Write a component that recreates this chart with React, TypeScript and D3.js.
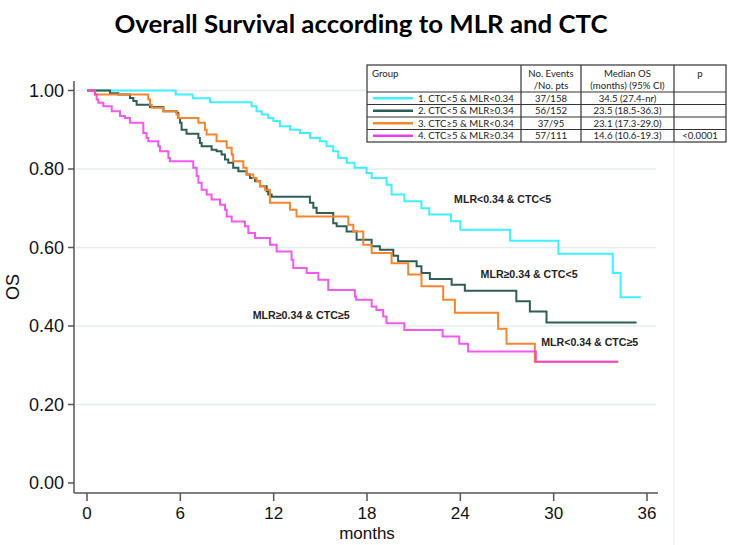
import React from 'react'
import * as d3 from 'd3'

// Kaplan-Meier steps: drop times (months) and survival after each drop
const g1Times = [0, 5.7, 6.8, 7.9, 10.58, 10.9, 11.23, 11.65, 11.98, 12.4, 13.05, 13.69, 14.33, 14.97, 15.4, 15.83, 16.15, 16.7, 17.2, 17.97, 18.3, 19.26, 19.58, 20.4, 21.5, 22.0, 23.4, 24.0, 27.2, 30.3, 33.8, 34.3]
const g1Surv = [1, 0.99, 0.98, 0.97, 0.96, 0.947, 0.939, 0.93, 0.922, 0.909, 0.9, 0.892, 0.879, 0.871, 0.858, 0.845, 0.828, 0.816, 0.803, 0.79, 0.777, 0.76, 0.735, 0.718, 0.7, 0.684, 0.667, 0.645, 0.617, 0.584, 0.535, 0.473]

const g2Times = [0, 1.48, 2.01, 2.76, 2.98, 3.19, 4.05, 4.91, 5.76, 5.87, 5.98, 6.08, 6.4, 7.16, 7.26, 7.37, 8.01, 8.33, 8.65, 8.87, 9.08, 9.4, 9.73, 10.26, 10.48, 10.8, 11.12, 11.55, 11.65, 11.87, 14.33, 14.55, 14.76, 15.83, 16.05, 16.69, 17.33, 18.3, 18.83, 19.69, 20.0, 21.19, 21.5, 22.04, 23.44, 24.29, 27.6, 28.47, 29.54]
const g2Surv = [1, 0.993, 0.99, 0.981, 0.973, 0.964, 0.958, 0.947, 0.943, 0.93, 0.918, 0.9, 0.89, 0.879, 0.866, 0.858, 0.849, 0.845, 0.837, 0.824, 0.816, 0.803, 0.794, 0.786, 0.777, 0.769, 0.756, 0.743, 0.735, 0.729, 0.714, 0.701, 0.688, 0.662, 0.654, 0.641, 0.62, 0.603, 0.594, 0.579, 0.565, 0.552, 0.535, 0.52, 0.505, 0.49, 0.463, 0.437, 0.409]

const g3Times = [0, 0.51, 3.94, 4.05, 4.16, 4.91, 5.76, 5.87, 7.16, 7.58, 7.69, 8.33, 8.98, 9.3, 9.4, 10.05, 10.26, 10.69, 10.9, 11.12, 11.44, 11.76, 13.05, 13.47, 16.8, 17.12, 17.76, 18.3, 19.58, 20.65, 21.5, 22.9, 23.65, 26.43, 26.97, 28.79]
const g3Surv = [1, 0.99, 0.977, 0.964, 0.956, 0.947, 0.939, 0.93, 0.918, 0.9, 0.888, 0.871, 0.854, 0.837, 0.82, 0.803, 0.786, 0.777, 0.769, 0.756, 0.747, 0.714, 0.696, 0.679, 0.658, 0.641, 0.607, 0.586, 0.56, 0.531, 0.501, 0.467, 0.434, 0.393, 0.355, 0.309]

const g4Times = [0, 0.51, 0.62, 0.73, 1.05, 1.59, 2.12, 2.44, 2.76, 3.62, 3.83, 3.94, 4.58, 4.69, 5.23, 5.33, 6.83, 7.05, 7.16, 7.37, 7.69, 8.01, 8.55, 8.87, 8.98, 9.3, 10.15, 10.37, 10.8, 11.76, 12.19, 13.15, 13.26, 14.12, 14.87, 15.51, 17.22, 17.3, 18.3, 18.6, 19.04, 19.25, 20.4, 22.86, 23.93, 24.5, 28.86]
const g4Surv = [1, 0.99, 0.977, 0.969, 0.96, 0.947, 0.935, 0.93, 0.918, 0.892, 0.879, 0.871, 0.858, 0.845, 0.828, 0.82, 0.803, 0.782, 0.765, 0.747, 0.735, 0.722, 0.709, 0.696, 0.679, 0.666, 0.654, 0.637, 0.624, 0.607, 0.59, 0.569, 0.548, 0.535, 0.518, 0.492, 0.475, 0.467, 0.45, 0.441, 0.424, 0.407, 0.39, 0.373, 0.355, 0.335, 0.309]

const endTimes = [35.6, 35.33, 34.15, 34.15]
const groupColors = ['#3ff0ff', '#2e5e55', '#f5852e', '#ee3cee']

const groupNames = ['1. CTC<5 & MLR<0.34', '2. CTC<5 & MLR\u22650.34', '3. CTC\u22655 & MLR<0.34', '4. CTC\u22655 & MLR\u22650.34']
const eventCounts = ['37/158', '56/152', '37/95', '57/111']
const medianOS = ['34.5 (27.4-nr)', '23.5 (18.5-36.3)', '23.1 (17.3-29.0)', '14.6 (10.6-19.3)']
const pValues = ['', '', '', '<0.0001']

const xTicks = [0, 6, 12, 18, 24, 30, 36]
const yTicks = [0, 0.2, 0.4, 0.6, 0.8, 1.0]

const curveLabels = ['MLR<0.34 & CTC<5', 'MLR\u22650.34 & CTC<5', 'MLR<0.34 & CTC\u22655', 'MLR\u22650.34 & CTC\u22655']
// where each label starts (months, survival at baseline)
const labelAnchors = [[23.6, 0.713], [25.3, 0.522], [29.2, 0.349], [10.65, 0.418]]

const W = 734
const H = 545
const axisFont = '"Liberation Sans", Arial, sans-serif'
const tableFont = 'Lato, "Open Sans", sans-serif'

export default function App() {
  const x = d3.scaleLinear().domain([0, 36]).range([87, 647])
  const y = d3.scaleLinear().domain([0, 1]).range([483, 90.5])

  const series = [
    [g1Times, g1Surv],
    [g2Times, g2Surv],
    [g3Times, g3Surv],
    [g4Times, g4Surv],
  ].map(([t, s], i) => {
    const pts: [number, number][] = t.map((v, j) => [v, s[j]])
    pts.push([endTimes[i], s[s.length - 1]])
    return pts
  })

  const line = d3.line<[number, number]>()
    .x(d => x(d[0]))
    .y(d => y(d[1]))
    .curve(d3.curveStepAfter)

  // table geometry
  const tLeft = 367, tRight = 726, tTop = 65
  const rowLines = [92, 104.5, 117, 129.5, 142]
  const colLines = [521, 581, 674]

  return (
    <svg width={W} height={H} style={{ position: 'absolute', left: 0, top: 0, background: '#fff' }}>
      <text x={361} y={33} textAnchor="middle" fontFamily={tableFont} fontWeight="bold" fontSize={25}
        textLength={493} lengthAdjust="spacingAndGlyphs">
        Overall Survival according to MLR and CTC
      </text>

      {/* faint outer border of plot region */}
      <line x1={674} x2={674} y1={142} y2={H} stroke="#edf3f3" strokeWidth={1.5} />

      {/* grid */}
      {yTicks.filter(v => v > 0).map(v => (
        <line key={v} x1={76} x2={656} y1={y(v)} y2={y(v)} stroke="#e4eeee" strokeWidth={1.5} />
      ))}

      {/* axes */}
      <line x1={74} x2={74} y1={81} y2={493} stroke="#555" strokeWidth={1.5} />
      <line x1={74} x2={658} y1={493} y2={493} stroke="#555" strokeWidth={1.5} />
      {yTicks.map(v => (
        <g key={v}>
          <line x1={68} x2={74} y1={y(v)} y2={y(v)} stroke="#555" strokeWidth={1.5} />
          <text x={64} y={y(v)} dy="0.35em" textAnchor="end" fontFamily={axisFont} fontSize={18} fill="#111">
            {d3.format('.2f')(v)}
          </text>
        </g>
      ))}
      {xTicks.map(v => (
        <g key={v}>
          <line x1={x(v)} x2={x(v)} y1={493} y2={501} stroke="#555" strokeWidth={1.5} />
          <text x={x(v)} y={519} textAnchor="middle" fontFamily={axisFont} fontSize={17} fill="#111">{v}</text>
        </g>
      ))}
      <text x={367} y={539} textAnchor="middle" fontFamily={axisFont} fontSize={17} fill="#111">months</text>
      <text transform="translate(19,287) rotate(-90)" textAnchor="middle" fontFamily={axisFont} fontSize={18} fill="#111">OS</text>

      {/* survival curves */}
      {series.map((pts, i) => (
        <path key={i} d={line(pts) ?? ''} fill="none" stroke={groupColors[i]} strokeWidth={2}
          strokeOpacity={i === 3 ? 0.85 : 1} />
      ))}

      {/* curve labels */}
      {curveLabels.map((lab, i) => (
        <text key={i} x={x(labelAnchors[i][0])} y={y(labelAnchors[i][1])} fontFamily={axisFont} fontWeight="bold"
          fontSize={11} fill="#222" textLength={97} lengthAdjust="spacingAndGlyphs">{lab}</text>
      ))}

      {/* legend table */}
      <g fontFamily={tableFont} fontSize={9.6} fill="#222">
        <rect x={tLeft} y={tTop} width={tRight - tLeft} height={rowLines[4] - tTop} fill="#fff" stroke="#333" strokeWidth={1.2} />
        {rowLines.slice(0, 4).map(r => (
          <line key={r} x1={tLeft} x2={tRight} y1={r} y2={r} stroke="#333" strokeWidth={1.2} />
        ))}
        {colLines.map(c => (
          <line key={c} x1={c} x2={c} y1={tTop} y2={rowLines[4]} stroke="#333" strokeWidth={1.2} />
        ))}
        <text x={372} y={77}>Group</text>
        <text x={551} y={77} textAnchor="middle">No. Events</text>
        <text x={551} y={89} textAnchor="middle">/No. pts</text>
        <text x={627.5} y={77} textAnchor="middle">Median OS</text>
        <text x={627.5} y={89} textAnchor="middle">(months) (95% CI)</text>
        <text x={700} y={77} textAnchor="middle">p</text>
        {groupNames.map((g, i) => {
          const cy = (rowLines[i] + rowLines[i + 1]) / 2
          return (
            <g key={g}>
              <line x1={373} x2={413} y1={cy} y2={cy} stroke={groupColors[i]} strokeWidth={2.5} />
              <text x={418} y={cy + 3.5}>{g}</text>
              <text x={551} y={cy + 3.5} textAnchor="middle">{eventCounts[i]}</text>
              <text x={627.5} y={cy + 3.5} textAnchor="middle">{medianOS[i]}</text>
              <text x={700} y={cy + 3.5} textAnchor="middle">{pValues[i]}</text>
            </g>
          )
        })}
      </g>
    </svg>
  )
}
